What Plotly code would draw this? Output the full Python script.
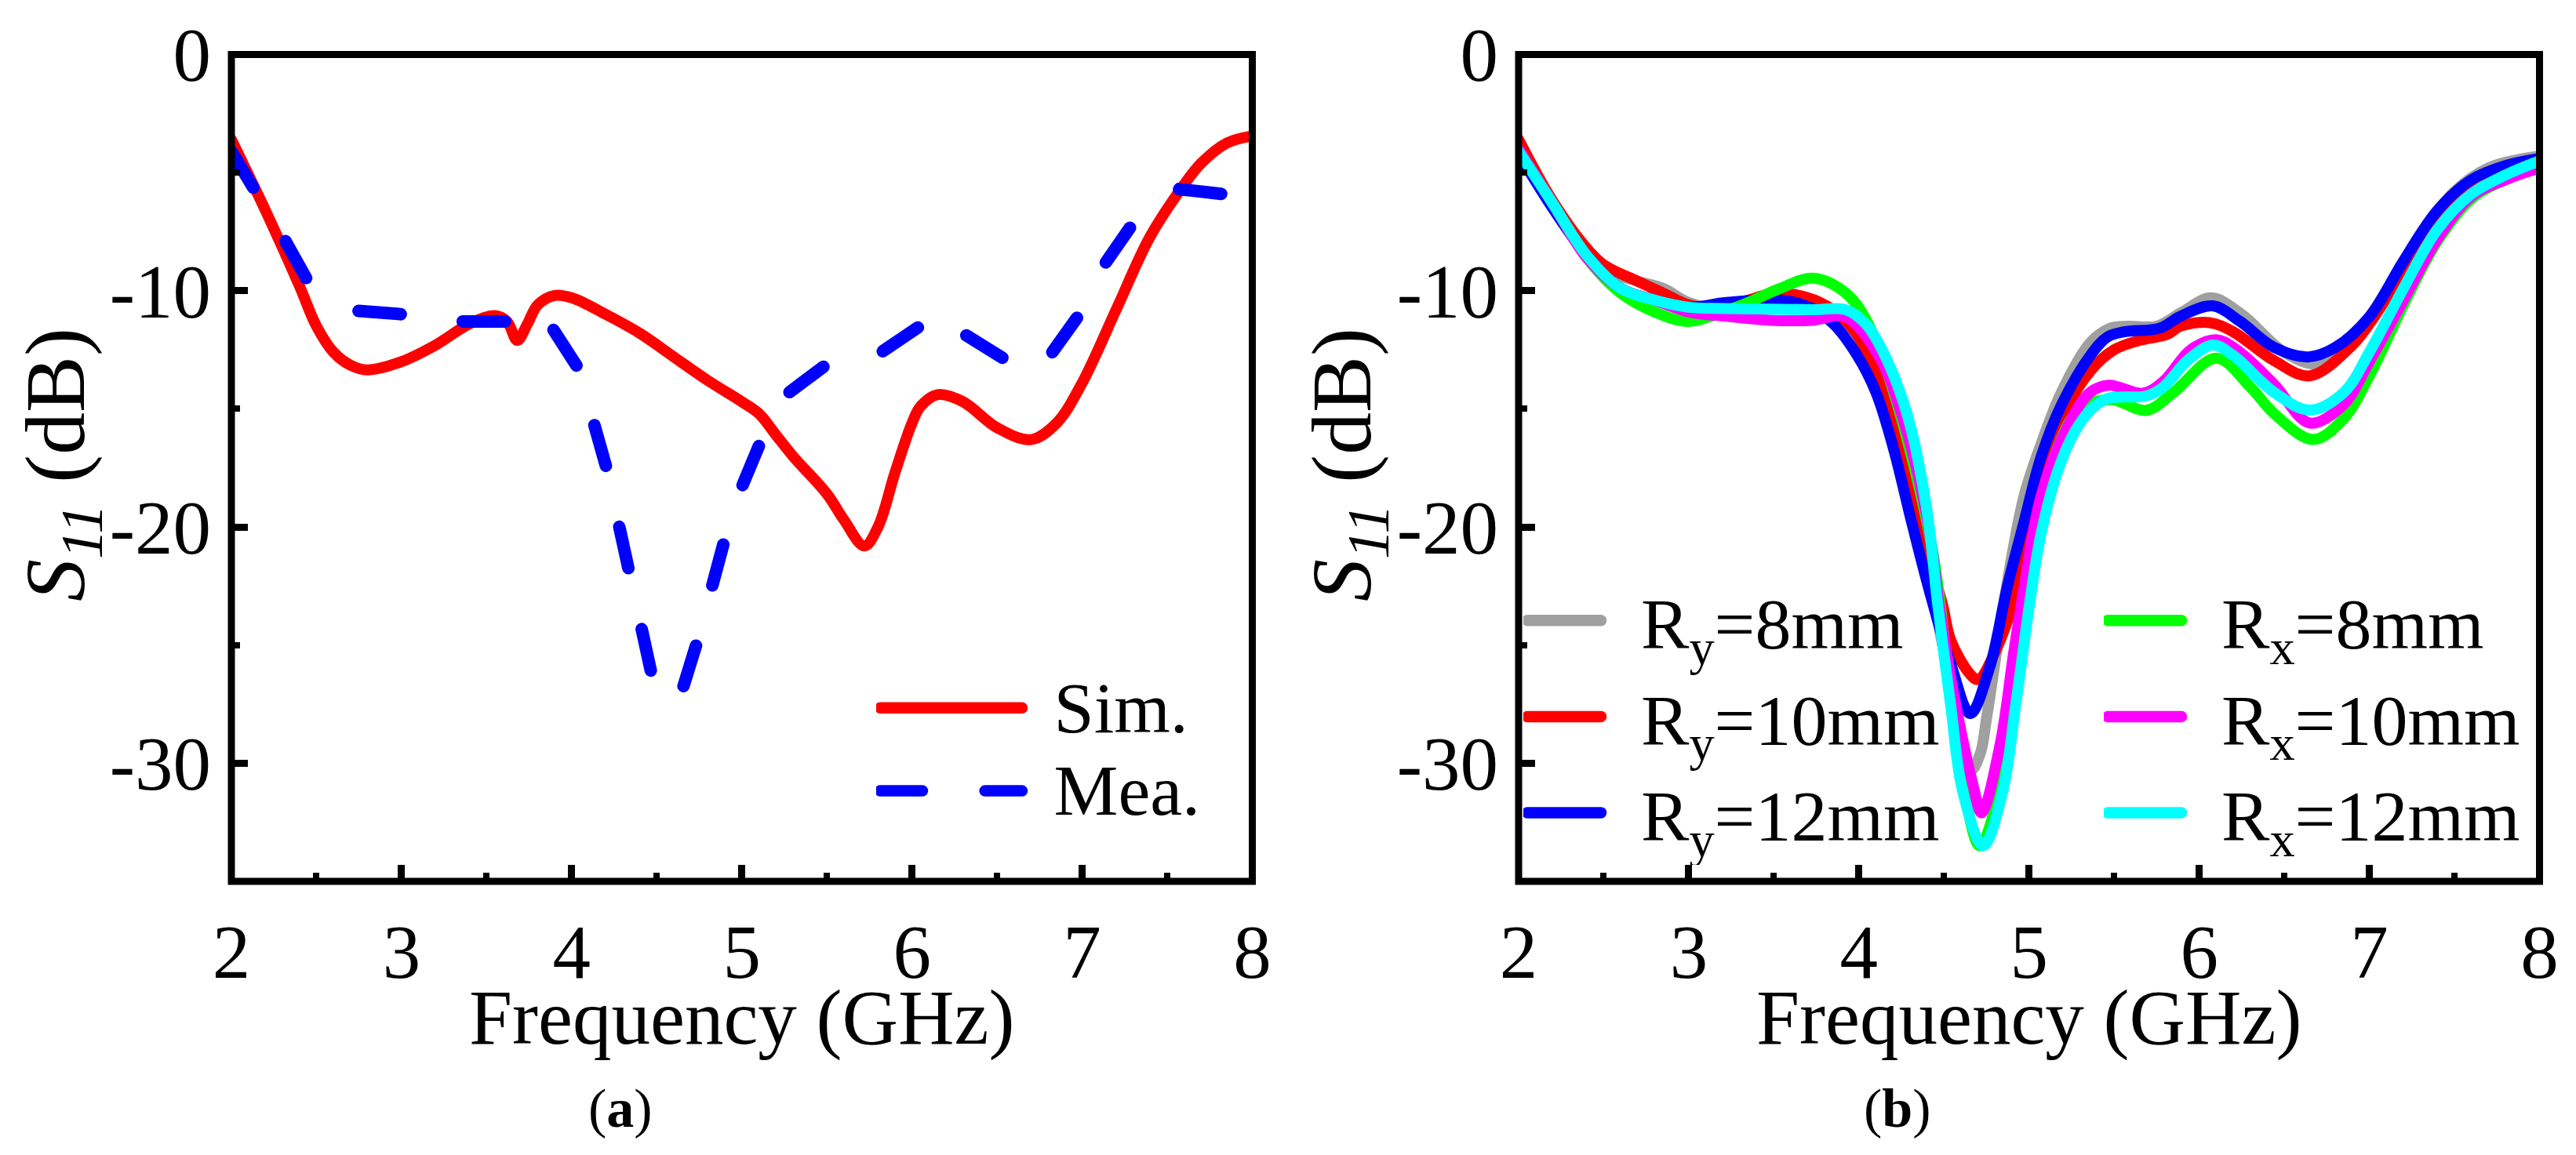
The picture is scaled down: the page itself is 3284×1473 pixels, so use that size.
import plotly.graph_objects as go

FONT = "Liberation Serif"
W, H = 3284, 1473

# Panel (a)
sim_x = [2.0, 2.2, 2.4, 2.5, 2.6, 2.7, 2.8, 3.0, 3.2, 3.4, 3.55, 3.62, 3.68, 3.74, 3.8, 3.9, 4.0, 4.2, 4.4, 4.6, 4.8,
         5.0, 5.1, 5.2, 5.3, 5.5, 5.6, 5.72, 5.8, 5.9, 6.0, 6.05, 6.15, 6.3, 6.5, 6.7, 6.85, 7.0, 7.2, 7.4, 7.6,
         7.7, 7.85, 8.0]
sim_y = [-3.6, -6.6, -9.8, -11.5, -12.6, -13.15, -13.35, -13.0, -12.3, -11.4, -11.05, -11.3, -12.1, -11.4, -10.6,
         -10.2, -10.3, -11.0, -11.8, -12.8, -13.8, -14.7, -15.2, -16.1, -17.0, -18.6, -19.7, -20.8, -20.0, -17.7,
         -15.6, -14.9, -14.4, -14.7, -15.8, -16.3, -15.6, -13.9, -10.8, -7.7, -5.5, -4.6, -3.75, -3.45]
mea_x = [2.0, 2.14, 2.31, 2.45, 2.74, 3.01, 3.33, 3.64, 3.76, 3.87, 4.04, 4.13, 4.21, 4.28, 4.34, 4.40, 4.47, 4.56,
         4.65, 4.74, 4.82, 4.9, 5.0, 5.11, 5.26, 5.52, 5.81, 6.06, 6.17, 6.31, 6.58, 6.68, 6.81, 6.99, 7.13, 7.28,
         7.57, 7.87]
mea_y = [-4.1, -5.7, -7.8, -9.6, -10.85, -11.0, -11.3, -11.3, -10.7, -11.4, -13.3, -15.6, -17.65, -20.0, -22.0,
         -24.3, -26.25, -27.5, -26.9, -24.8, -22.6, -20.5, -18.3, -16.4, -14.4, -13.0, -12.65, -11.35, -10.9, -11.85,
         -13.03, -13.5, -12.75, -10.94, -8.9, -7.34, -5.7, -5.94]

# Panel (b)
ry8_x = [2.0, 2.2, 2.4, 2.5, 2.7, 2.85, 3.0, 3.2, 3.4, 3.55, 3.71, 3.85, 3.98, 4.08, 4.18, 4.29, 4.5, 4.6, 4.66,
         4.715, 4.75, 4.88, 4.97, 5.07, 5.19, 5.36, 5.48, 5.58, 5.75, 5.9, 6.07, 6.25, 6.5, 6.7, 6.9, 7.1, 7.3, 7.5,
         7.7, 8.0]
ry8_y = [-4.0, -6.3, -8.3, -9.1, -9.6, -9.9, -10.5, -10.8, -10.6, -10.4, -10.7, -11.2, -11.74, -13.0, -15.2, -18.2,
         -25.3, -29.2, -30.3, -29.55, -28.1, -22.0, -18.7, -16.5, -14.3, -12.2, -11.58, -11.5, -11.5, -10.9, -10.3,
         -11.0, -12.6, -13.1, -12.2, -10.0, -7.6, -5.8, -4.8, -4.3]
ry10_x = [2.0, 2.2, 2.4, 2.5, 2.7, 2.85, 3.0, 3.2, 3.35, 3.48, 3.65, 3.81, 3.94, 4.04, 4.14, 4.25, 4.33, 4.49, 4.54,
          4.65, 4.7, 4.8, 4.93, 5.03, 5.19, 5.36, 5.5, 5.65, 5.81, 5.89, 6.06, 6.2, 6.44, 6.65, 6.9, 7.0, 7.2, 7.4,
          7.6, 7.8, 8.0]
ry10_y = [-3.6, -6.2, -8.2, -8.9, -9.6, -10.1, -10.6, -10.7, -10.4, -10.14, -10.2, -10.64, -11.4, -12.5, -14.2,
          -16.6, -19.3, -23.25, -24.8, -26.2, -26.46, -25.3, -22.6, -18.7, -15.4, -13.4, -12.5, -12.1, -11.85, -11.5,
          -11.35, -11.74, -12.96, -13.6, -12.3, -11.4, -9.2, -7.2, -5.6, -4.9, -4.5]
ry12_x = [2.0, 2.2, 2.4, 2.6, 2.8, 3.0, 3.22, 3.55, 3.71, 3.85, 3.99, 4.1, 4.2, 4.31, 4.41, 4.54, 4.654, 4.77,
          4.87, 4.97, 5.07, 5.19, 5.36, 5.46, 5.56, 5.77, 5.89, 6.08, 6.24, 6.44, 6.64, 6.8, 7.0, 7.2, 7.4, 7.6, 7.8,
          8.0]
ry12_y = [-4.2, -6.5, -8.5, -9.9, -10.4, -10.7, -10.5, -10.4, -10.7, -11.4, -12.74, -14.3, -16.6, -19.8, -22.6,
          -25.8, -27.9, -25.9, -22.6, -19.8, -17.05, -14.84, -12.74, -11.96, -11.74, -11.58, -11.08, -10.64,
          -11.3, -12.4, -12.8, -12.4, -11.1, -8.75, -6.6, -5.3, -4.7, -4.4]
rx8_x = [2.0, 2.2, 2.4, 2.6, 2.8, 3.0, 3.2, 3.35, 3.53, 3.73, 3.92, 4.04, 4.2, 4.43, 4.52, 4.6, 4.71, 4.8, 4.89, 5.03,
         5.17, 5.3, 5.48, 5.69, 5.85, 6.1, 6.3, 6.44, 6.67, 6.85, 7.0, 7.2, 7.4, 7.6, 7.8, 8.0]
rx8_y = [-4.0, -6.3, -8.6, -10.1, -10.9, -11.3, -10.9, -10.5, -9.92, -9.47, -10.08, -11.2, -14.2, -20.9, -25.9,
         -30.3, -33.5, -31.9, -27.6, -20.8, -16.6, -15.0, -14.6, -15.06, -14.3, -12.85, -14.07, -15.2, -16.3, -15.4,
         -13.6, -10.6, -7.9, -6.1, -5.3, -4.8]
rx10_x = [2.0, 2.2, 2.4, 2.6, 2.8, 3.0, 3.22, 3.48, 3.73, 3.92, 4.12, 4.25, 4.4, 4.47, 4.545, 4.67, 4.72, 4.83, 4.91,
          4.97, 5.07, 5.23, 5.36, 5.47, 5.67, 5.79, 5.95, 6.1, 6.22, 6.44, 6.65, 6.85, 7.0, 7.2, 7.4, 7.6, 7.8, 8.0]
rx10_y = [-4.0, -6.3, -8.6, -9.9, -10.4, -10.9, -11.08, -11.25, -11.25, -11.1, -12.8, -15.2, -19.6, -23.2, -26.6,
          -30.9, -32.1, -29.2, -25.3, -22.6, -18.7, -15.7, -14.3, -14.0, -14.34, -13.84, -12.5, -12.07, -12.5, -13.96,
          -15.6, -14.8, -13.0, -10.4, -7.8, -6.0, -5.3, -4.8]
rx12_x = [2.0, 2.2, 2.4, 2.6, 2.8, 3.0, 3.22, 3.73, 3.92, 4.04, 4.16, 4.29, 4.4, 4.46, 4.54, 4.61, 4.73, 4.845, 4.92,
          5.01, 5.07, 5.17, 5.27, 5.36, 5.46, 5.69, 5.79, 5.93, 6.08, 6.2, 6.44, 6.65, 6.85, 7.0, 7.2, 7.4, 7.6, 7.8,
          8.0]
rx12_y = [-4.1, -6.3, -8.5, -9.9, -10.4, -10.7, -10.75, -10.8, -10.8, -11.4, -12.85, -15.4, -19.3, -23.1, -27.6,
          -31.2, -33.5, -31.2, -27.6, -22.9, -20.3, -17.6, -15.95, -15.06, -14.56, -14.45, -14.07, -12.96, -12.3,
          -12.74, -14.3, -15.05, -14.3, -12.6, -9.9, -7.4, -5.9, -5.1, -4.5]

x_ticks = [2, 3, 4, 5, 6, 7, 8]
y_ticks = [0, -10, -20, -30]
y_labels = ["0", "-10", "-20", "-30"]
x_title = "Frequency (GHz)"
y_title = "<i>S<sub>11</sub></i> (dB)"

panel_y = [1 - 1124 / H, 1 - 69.5 / H]
left_x = [295 / W, 1596.5 / W]
right_x = [1936 / W, 3237.5 / W]


def curve(x, y, name, color, legend, width=14, dash=None):
    return go.Scatter(x=x, y=y, name=name, mode="lines", legend=legend,
                      line=dict(color=color, width=width, dash=dash, shape="spline", smoothing=1.0))


def legend_name(label, size=None):
    if size:
        return "\u00a0\u2009<span style=\"font-size:%dpx\">%s</span>" % (size, label)
    return "\u00a0\u00a0" + label


def xaxis_opts(domain, anchor):
    return dict(domain=domain, anchor=anchor, range=[2, 8], tickmode="array", tickvals=x_ticks,
                ticks="inside", ticklen=21, tickwidth=9, tickcolor="black", showgrid=False, zeroline=False,
                showline=False, ticklabelstandoff=25, automargin=False,
                tickfont=dict(family=FONT, size=97, color="black"),
                minor=dict(ticks="inside", dtick=0.5, tick0=2, ticklen=11, tickwidth=8, tickcolor="black",
                           showgrid=False))


def yaxis_opts(domain, anchor):
    return dict(domain=domain, anchor=anchor, range=[-35, 0], tickmode="array", tickvals=y_ticks, ticktext=y_labels,
                ticks="inside", ticklen=21, tickwidth=9, tickcolor="black", showgrid=False, zeroline=False,
                showline=False, ticklabelstandoff=25, automargin=False,
                tickfont=dict(family=FONT, size=97, color="black"),
                minor=dict(ticks="inside", dtick=5, tick0=0, ticklen=11, tickwidth=8, tickcolor="black",
                           showgrid=False))


def page_text(text, x, y, size, angle=0):
    return dict(text=text, xref="paper", yref="paper", x=x / W, y=1 - y / H, xanchor="center", yanchor="middle",
                showarrow=False, textangle=angle, font=dict(family=FONT, size=size, color="black"))


fig = go.Figure()

# Panel (a)
fig.add_trace(curve(sim_x, sim_y, legend_name("Sim.", 92), "#ff0000", "legend"))
fig.add_trace(curve(mea_x, mea_y, legend_name("Mea.", 92), "#0000ff", "legend", width=16, dash="54px,79.6px"))
fig.data[1].line.shape = "linear"

# Panel (b)
right_curves = [
    (ry8_x, ry8_y, "R<sub>y</sub>=8mm", "#a0a0a0", "legend2"),
    (ry10_x, ry10_y, "R<sub>y</sub>=10mm", "#ff0000", "legend2"),
    (ry12_x, ry12_y, "R<sub>y</sub>=12mm", "#0000ff", "legend2"),
    (rx8_x, rx8_y, "R<sub>x</sub>=8mm", "#00ff00", "legend3"),
    (rx10_x, rx10_y, "R<sub>x</sub>=10mm", "#ff00ff", "legend3"),
    (rx12_x, rx12_y, "R<sub>x</sub>=12mm", "#00ffff", "legend3"),
]
for x, y, name, color, legend in right_curves:
    tr = curve(x, y, legend_name(name), color, legend)
    tr.xaxis = "x2"
    tr.yaxis = "y2"
    fig.add_trace(tr)

# frame sits on the line centres, the way the original axes do
frame = dict(type="rect", x0=0, x1=1, y0=0, y1=1, line=dict(color="black", width=9), layer="above")

legend_style = dict(bgcolor="rgba(0,0,0,0)", borderwidth=0, xanchor="left", yanchor="top", traceorder="normal",
                    tracegroupgap=0)

fig.update_layout(
    width=W,
    height=H,
    autosize=False,
    margin=dict(l=0, r=0, t=0, b=0),
    plot_bgcolor="white",
    paper_bgcolor="white",
    showlegend=True,
    xaxis=xaxis_opts(left_x, "y"),
    yaxis=yaxis_opts(panel_y, "x"),
    xaxis2=xaxis_opts(right_x, "y2"),
    yaxis2=yaxis_opts(panel_y, "x2"),
    shapes=[dict(frame, xref="x domain", yref="y domain"), dict(frame, xref="x2 domain", yref="y2 domain")],
    legend=dict(legend_style, x=1117 / W, y=1 - 845 / H, itemwidth=181, font=dict(family=FONT, size=79, color="black")),
    legend2=dict(legend_style, x=1942 / W, y=1 - 725 / H, itemwidth=94, font=dict(family=FONT, size=92, color="black")),
    legend3=dict(legend_style, x=2682 / W, y=1 - 725 / H, itemwidth=94, font=dict(family=FONT, size=92, color="black")),
    annotations=[
        page_text(x_title, 945, 1298, 99),
        page_text(x_title, 2586, 1298, 99),
        page_text(y_title, 78, 593, 108, angle=-90),
        page_text(y_title, 1718, 593, 108, angle=-90),
        page_text("(<b>a</b>)", 791, 1413, 70),
        page_text("(<b>b</b>)", 2419, 1413, 70),
    ],
)

# round line ends, full-width legend samples, no page margin
post = """
document.body.style.margin = '0';
document.querySelectorAll('.js-line').forEach(function (p) { p.style.strokeLinecap = 'round'; });
document.querySelectorAll('.legendlines .js-line').forEach(function (p) { p.style.strokeWidth = '14.5px'; });
"""
fig.write_html("out.html", post_script=post, config=dict(displayModeBar=False))
